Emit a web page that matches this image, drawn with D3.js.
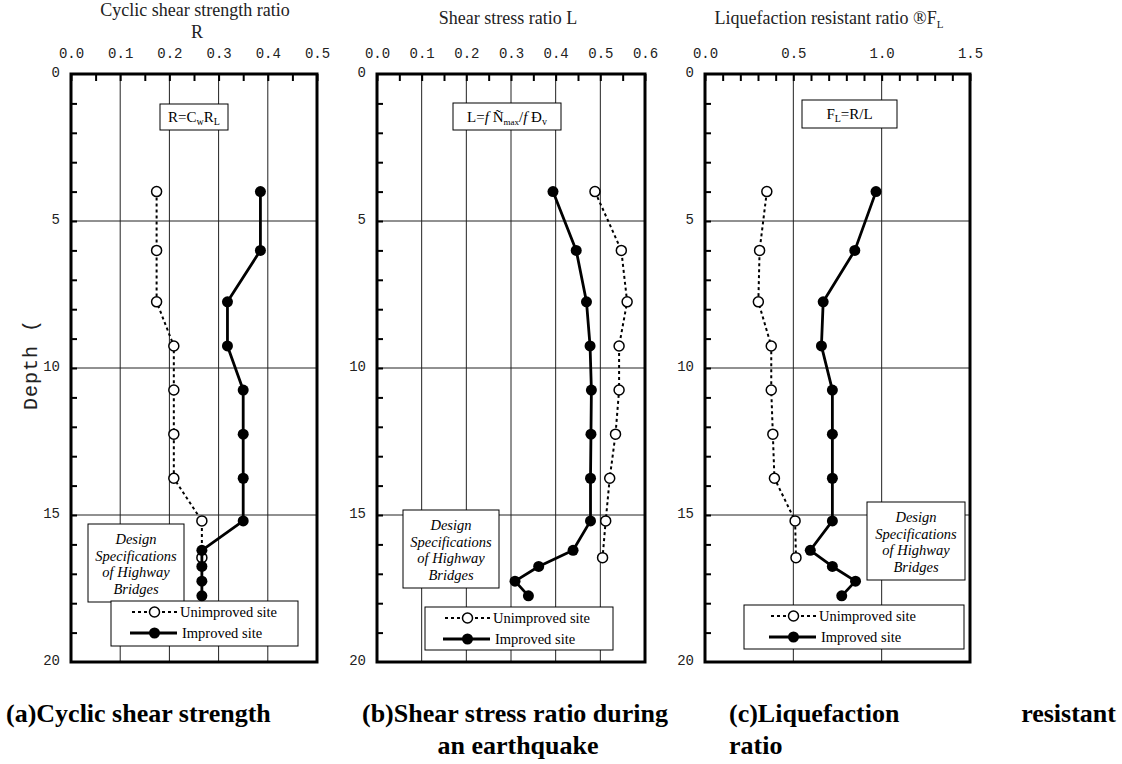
<!DOCTYPE html>
<html>
<head>
<meta charset="utf-8">
<script src="https://cdn.jsdelivr.net/npm/d3@7"></script>
<style>
  body { margin: 0; background: #fff; }
  svg { display: block; }
  .tick line { stroke: #000; }
</style>
</head>
<body>
<div class="plot"></div>
<script>
// depth (m) of each measuring point
const depthUnimp = [4.0, 6.0, 7.75, 9.25, 10.75, 12.25, 13.75, 15.2, 16.45];
const depthImp = [4.0, 6.0, 7.75, 9.25, 10.75, 12.25, 13.75, 15.2, 16.2, 16.75, 17.25, 17.75];

// (a) cyclic shear strength ratio R
const rUnimp = [0.174, 0.174, 0.174, 0.209, 0.209, 0.209, 0.209, 0.266, 0.266];
const rImp = [0.385, 0.385, 0.318, 0.318, 0.350, 0.350, 0.350, 0.350, 0.266, 0.266, 0.266, 0.266];

// (b) shear stress ratio L
const lUnimp = [0.488, 0.547, 0.560, 0.542, 0.542, 0.534, 0.521, 0.512, 0.505];
const lImp = [0.394, 0.446, 0.469, 0.477, 0.480, 0.479, 0.478, 0.478, 0.439, 0.362, 0.309, 0.339];

// (c) liquefaction resistant ratio FL
const fUnimp = [0.350, 0.309, 0.302, 0.375, 0.375, 0.384, 0.393, 0.510, 0.515];
const fImp = [0.968, 0.848, 0.669, 0.659, 0.721, 0.721, 0.721, 0.721, 0.596, 0.721, 0.852, 0.774];

// tick labels
const rTicks = [0, 0.1, 0.2, 0.3, 0.4, 0.5];
const lTicks = [0, 0.1, 0.2, 0.3, 0.4, 0.5, 0.6];
const fTicks = [0, 0.5, 1.0, 1.5];
const depthTicks = [0, 5, 10, 15, 20];

const W = 1122, H = 764;
const plotTop = 74, plotBottom = 662;
const serif = '"Liberation Serif", "Times New Roman", serif';
const mono = '"Liberation Mono", "DejaVu Sans Mono", monospace';

const svg = d3.select('.plot')
    .append('svg')
    .attr('width', W)
    .attr('height', H);

const yScale = d3.scaleLinear().domain([0, 20]).range([plotTop, plotBottom]);

const panels = [
    {
        left: 71, right: 317, max: 0.5, step: 0.05, ticks: rTicks,
        unimp: rUnimp, imp: rImp,
        formula: {x: 160, y: 104, w: 68, h: 26},
        design: {x: 88, y: 524, w: 96, h: 78},
        legend: {x: 111, y: 601, w: 187, h: 45, lx: 21}
    },
    {
        left: 377, right: 645, max: 0.6, step: 0.05, ticks: lTicks,
        unimp: lUnimp, imp: lImp,
        formula: {x: 453, y: 103, w: 108, h: 27},
        design: {x: 403, y: 510, w: 96, h: 78},
        legend: {x: 425, y: 607, w: 188, h: 43, lx: 20}
    },
    {
        left: 705, right: 970, max: 1.5, step: 0.1, ticks: fTicks,
        unimp: fUnimp, imp: fImp,
        formula: {x: 802, y: 100, w: 95, h: 28},
        design: {x: 867, y: 502, w: 98, h: 78},
        legend: {x: 744, y: 605, w: 220, h: 44, lx: 27}
    }
];

const drawPanel = (p, idx) => {
    const x = d3.scaleLinear().domain([0, p.max]).range([p.left, p.right]);
    const g = svg.append('g');

    // grid
    g.selectAll('.vgrid')
        .data(p.ticks.slice(1, -1))
        .enter().append('line')
        .attr('x1', d => x(d)).attr('x2', d => x(d))
        .attr('y1', plotTop).attr('y2', plotBottom)
        .attr('stroke', '#222').attr('stroke-width', 1);
    g.selectAll('.hgrid')
        .data(depthTicks.slice(1, -1))
        .enter().append('line')
        .attr('x1', p.left).attr('x2', p.right)
        .attr('y1', d => yScale(d)).attr('y2', d => yScale(d))
        .attr('stroke', '#222').attr('stroke-width', 1);

    // minor ticks, pointing inward
    const minor = d3.range(0, Math.round(p.max / p.step) + 1).map(i => i * p.step);
    g.append('g')
        .attr('transform', `translate(0, ${plotTop})`)
        .call(d3.axisTop(x).tickValues(minor).tickSize(-7).tickFormat(''))
        .call(a => a.select('.domain').remove())
        .selectAll('line').attr('stroke-width', 2);
    g.append('g')
        .attr('transform', `translate(${p.left}, 0)`)
        .call(d3.axisLeft(yScale).tickValues(d3.range(1, 20)).tickSize(-6).tickFormat(''))
        .call(a => a.select('.domain').remove())
        .selectAll('line').attr('stroke-width', 2);

    // tick labels
    g.append('g')
        .attr('transform', `translate(0, ${plotTop})`)
        .call(d3.axisTop(x).tickValues(p.ticks).tickSize(0).tickPadding(16).tickFormat(d3.format('.1f')))
        .call(a => a.select('.domain').remove())
        .selectAll('text')
        .attr('font-family', mono).attr('font-size', 14).attr('fill', '#222');
    g.append('g')
        .attr('transform', `translate(${p.left}, 0)`)
        .call(d3.axisLeft(yScale).tickValues(depthTicks).tickSize(0).tickPadding(11))
        .call(a => a.select('.domain').remove())
        .selectAll('text')
        .attr('font-family', mono).attr('font-size', 14).attr('fill', '#222')
        .attr('dy', '0.2em');

    // frame
    g.append('rect')
        .attr('x', p.left).attr('y', plotTop)
        .attr('width', p.right - p.left).attr('height', plotBottom - plotTop)
        .attr('fill', 'none').attr('stroke', '#000').attr('stroke-width', 3);

    // formula box
    const f = p.formula;
    g.append('rect')
        .attr('x', f.x).attr('y', f.y).attr('width', f.w).attr('height', f.h)
        .attr('fill', '#fff').attr('stroke', '#000').attr('stroke-width', 1);
    const ft = g.append('text')
        .attr('x', f.x + f.w / 2).attr('y', f.y + f.h / 2 + 5)
        .attr('text-anchor', 'middle')
        .attr('font-family', serif).attr('font-size', 15);
    if (idx === 0) {
        ft.append('tspan').text('R=C');
        ft.append('tspan').text('w').attr('font-size', 10).attr('dy', 3);
        ft.append('tspan').text('R').attr('dy', -3);
        ft.append('tspan').text('L').attr('font-size', 10).attr('dy', 3);
    } else if (idx === 1) {
        ft.append('tspan').text('L=');
        ft.append('tspan').text('f').attr('font-style', 'italic');
        ft.append('tspan').text(' Ñ');
        ft.append('tspan').text('max').attr('font-size', 9).attr('dy', 3);
        ft.append('tspan').text('/').attr('dy', -3);
        ft.append('tspan').text('f').attr('font-style', 'italic');
        ft.append('tspan').text(' Ð');
        ft.append('tspan').text('v').attr('font-size', 10).attr('dy', 3);
    } else {
        ft.append('tspan').text('F');
        ft.append('tspan').text('L').attr('font-size', 10).attr('dy', 3);
        ft.append('tspan').text('=R/L').attr('dy', -3);
    }

    // design specifications box
    const d = p.design;
    g.append('rect')
        .attr('x', d.x).attr('y', d.y).attr('width', d.w).attr('height', d.h)
        .attr('fill', '#fff').attr('stroke', '#000').attr('stroke-width', 1);
    ['Design', 'Specifications', 'of Highway', 'Bridges'].forEach((t, i) => {
        g.append('text')
            .text(t)
            .attr('x', d.x + d.w / 2).attr('y', d.y + 20 + i * 16.5)
            .attr('text-anchor', 'middle')
            .attr('font-family', serif).attr('font-style', 'italic')
            .attr('font-size', 14.5);
    });

    // legend box
    const l = p.legend;
    g.append('rect')
        .attr('x', l.x).attr('y', l.y).attr('width', l.w).attr('height', l.h)
        .attr('fill', '#fff').attr('stroke', '#000').attr('stroke-width', 1);
    const row1 = l.y + 11, row2 = l.y + 32;
    const lx0 = l.x + l.lx, lx1 = lx0 + 45, lxm = (lx0 + lx1) / 2;
    g.append('line')
        .attr('x1', lx0).attr('x2', lx1).attr('y1', row1).attr('y2', row1)
        .attr('stroke', '#000').attr('stroke-width', 2).attr('stroke-dasharray', '3,3');
    g.append('circle')
        .attr('cx', lxm).attr('cy', row1).attr('r', 5)
        .attr('fill', '#fff').attr('stroke', '#000').attr('stroke-width', 1.5);
    g.append('text').text('Unimproved site')
        .attr('x', lx1 + 3).attr('y', row1 + 5)
        .attr('font-family', serif).attr('font-size', 14.5);
    g.append('line')
        .attr('x1', lx0 - 2).attr('x2', lx1).attr('y1', row2).attr('y2', row2)
        .attr('stroke', '#000').attr('stroke-width', 2.8);
    g.append('circle')
        .attr('cx', lxm).attr('cy', row2).attr('r', 5.5)
        .attr('fill', '#000');
    g.append('text').text('Improved site')
        .attr('x', lx1 + 5).attr('y', row2 + 5)
        .attr('font-family', serif).attr('font-size', 14.5);

    // data
    const line = d3.line().x(v => x(v[0])).y(v => yScale(v[1]));
    const un = p.unimp.map((v, i) => [v, depthUnimp[i]]);
    const im = p.imp.map((v, i) => [v, depthImp[i]]);

    g.append('path')
        .attr('d', line(un))
        .attr('fill', 'none').attr('stroke', '#000')
        .attr('stroke-width', 2).attr('stroke-dasharray', '3,3');
    g.selectAll('.unimp')
        .data(un).enter().append('circle')
        .attr('cx', v => x(v[0])).attr('cy', v => yScale(v[1])).attr('r', 5)
        .attr('fill', '#fff').attr('stroke', '#000').attr('stroke-width', 1.5);

    g.append('path')
        .attr('d', line(im))
        .attr('fill', 'none').attr('stroke', '#000')
        .attr('stroke-width', 2.8).attr('stroke-linejoin', 'round');
    g.selectAll('.imp')
        .data(im).enter().append('circle')
        .attr('cx', v => x(v[0])).attr('cy', v => yScale(v[1])).attr('r', 5.5)
        .attr('fill', '#000');
};

panels.forEach(drawPanel);

// axis titles
const titleAttrs = (sel) => sel
    .attr('font-family', serif).attr('font-size', 18).attr('fill', '#222')
    .attr('text-anchor', 'middle');

svg.append('text').text('Cyclic shear strength ratio')
    .attr('x', 195).attr('y', 16).call(titleAttrs);
svg.append('text').text('R')
    .attr('x', 197).attr('y', 38).call(titleAttrs);
svg.append('text').text('Shear stress ratio L')
    .attr('x', 508).attr('y', 24).call(titleAttrs);
const tc = svg.append('text')
    .attr('x', 829).attr('y', 24).call(titleAttrs);
tc.append('tspan').text('Liquefaction resistant ratio  ®F');
tc.append('tspan').text('L').attr('font-size', 11).attr('dy', 4);

svg.append('text').text('Depth (')
    .attr('transform', 'translate(37, 410) rotate(-90)')
    .attr('font-family', mono).attr('font-size', 20)
    .attr('letter-spacing', 1).attr('fill', '#222');

// captions
const capAttrs = (sel) => sel
    .attr('font-family', serif).attr('font-size', 26).attr('font-weight', 'bold');

svg.append('text').text('(a)Cyclic shear strength')
    .attr('x', 6).attr('y', 722).call(capAttrs);
svg.append('text').text('(b)Shear stress ratio during')
    .attr('x', 515).attr('y', 722).attr('text-anchor', 'middle').call(capAttrs);
svg.append('text').text('an earthquake')
    .attr('x', 518).attr('y', 754).attr('text-anchor', 'middle').call(capAttrs);
svg.append('text').text('(c)Liquefaction')
    .attr('x', 729).attr('y', 722).call(capAttrs);
svg.append('text').text('resistant')
    .attr('x', 1116).attr('y', 722).attr('text-anchor', 'end').call(capAttrs);
svg.append('text').text('ratio')
    .attr('x', 729).attr('y', 754).call(capAttrs);
</script>
</body>
</html>
